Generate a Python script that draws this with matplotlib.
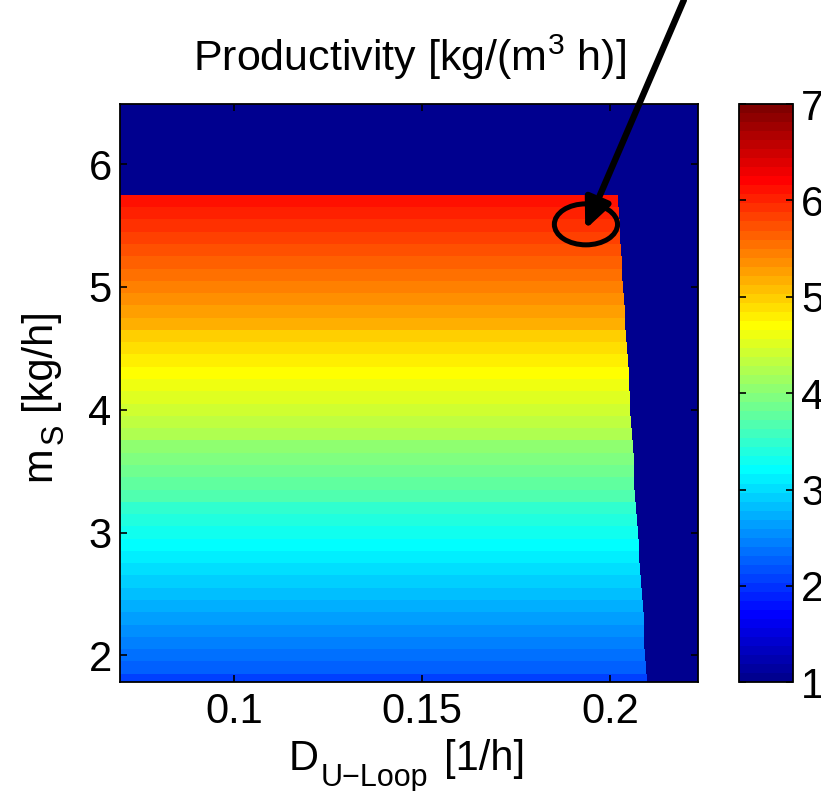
import numpy as np
import matplotlib.pyplot as plt
from matplotlib.colors import ListedColormap
from matplotlib.patches import Ellipse

plt.rcParams['font.family'] = ['Liberation Sans', 'DejaVu Sans']
plt.rcParams['mathtext.fontset'] = 'custom'
plt.rcParams['mathtext.rm'] = 'Liberation Sans'
plt.rcParams['mathtext.it'] = 'Liberation Sans'

# substrate feed m_S [kg/h] of the feasible rows
m_s = [1.8, 1.9, 2.0, 2.1, 2.2, 2.3, 2.4, 2.5, 2.6, 2.7,
       2.8, 2.9, 3.0, 3.1, 3.2, 3.3, 3.4, 3.5, 3.6, 3.7,
       3.8, 3.9, 4.0, 4.1, 4.2, 4.3, 4.4, 4.5, 4.6, 4.7,
       4.8, 4.9, 5.0, 5.1, 5.2, 5.3, 5.4, 5.5, 5.6, 5.7]
# productivity in each row [kg/(m^3 h)]
productivity = [2.12, 2.22, 2.32, 2.42, 2.52, 2.62, 2.72, 2.82, 2.92, 3.02,
                3.12, 3.21, 3.31, 3.42, 3.53, 3.64, 3.75, 3.86, 3.97, 4.08,
                4.19, 4.30, 4.41, 4.51, 4.62, 4.73, 4.83, 4.93, 5.03, 5.14,
                5.24, 5.34, 5.44, 5.54, 5.64, 5.75, 5.85, 5.95, 6.05, 6.15]
# largest dilution rate D_U-Loop [1/h] that still works in each row
d_max = [0.2098, 0.2096, 0.2094, 0.2092, 0.2090, 0.2088, 0.2086, 0.2084, 0.2082, 0.2080,
         0.2078, 0.2076, 0.2074, 0.2072, 0.2070, 0.2068, 0.2066, 0.2064, 0.2062, 0.2060,
         0.2058, 0.2056, 0.2054, 0.2053, 0.2051, 0.2049, 0.2047, 0.2045, 0.2043, 0.2041,
         0.2039, 0.2037, 0.2035, 0.2033, 0.2031, 0.2029, 0.2027, 0.2025, 0.2023, 0.2021]
# rows above the feasible region
m_s_off = [5.8, 5.9, 6.0, 6.1, 6.2, 6.3, 6.4, 6.5]
p_off = 1.0

d_lim = (0.0697, 0.2234)
m_lim = (1.78, 6.49)


def matlab_jet(m=64):
    n = int(np.ceil(m / 4))
    u = np.concatenate([np.arange(1, n + 1) / n, np.ones(n - 1), np.arange(n, 0, -1) / n])
    g = int(np.ceil(n / 2)) - (m % 4 == 1) + np.arange(1, len(u) + 1)
    r = g + n
    b = g - n
    J = np.zeros((m, 3))
    for col, idx in enumerate((r, g, b)):
        ok = (idx >= 1) & (idx <= m)
        J[idx[ok] - 1, col] = u[ok]
    return ListedColormap(J)


# build the grid
d_edges = np.linspace(d_lim[0], d_lim[1], 701)
d_mid = 0.5 * (d_edges[:-1] + d_edges[1:])
rows = []
for p, dm in zip(productivity, d_max):
    rows.append(np.where(d_mid <= dm, p, p_off))
for _ in m_s_off:
    rows.append(np.full(d_mid.shape, p_off))
Z = np.array(rows)
m_all = np.array(m_s + m_s_off)
m_edges = np.append(m_all - 0.05, m_all[-1] + 0.05)

fig = plt.figure(figsize=(8.21, 7.91), dpi=100)
ax = fig.add_axes([0.1462, 0.1374, 0.7040, 0.7311])
mesh = ax.pcolormesh(d_edges, m_edges, Z, cmap=matlab_jet(64), vmin=1, vmax=7,
                     shading='flat')

ax.set_xlim(*d_lim)
ax.set_ylim(*m_lim)
ax.set_xticks([0.1, 0.15, 0.2])
ax.set_xticklabels(['0.1', '0.15', '0.2'])
ax.set_yticks([2, 3, 4, 5, 6])
ax.tick_params(direction='in', length=5, width=1.2, top=True, right=True,
               labelsize=30)
ax.tick_params(axis='x', pad=7)
ax.tick_params(axis='y', pad=6)
for s in ax.spines.values():
    s.set_linewidth(1.3)

ax.set_title('Productivity [kg/(m$^3$ h)]', fontsize=31, pad=24)

# axis labels with large, low subscripts
fig.text(0.352, 0.026, 'D', fontsize=30, ha='left', va='baseline')
fig.text(0.391, 0.006, 'U\u2212Loop', fontsize=22, ha='left', va='baseline')
fig.text(0.5408, 0.026, '[1/h]', fontsize=30, ha='left', va='baseline')

fig.text(0.0609, 0.3919, 'm', fontsize=30, rotation=90, rotation_mode='anchor',
         ha='left', va='baseline')
fig.text(0.0767, 0.4387, 'S', fontsize=22, rotation=90, rotation_mode='anchor',
         ha='left', va='baseline')
fig.text(0.0609, 0.4817, '[kg/h]', fontsize=30, rotation=90, rotation_mode='anchor',
         ha='left', va='baseline')

# marked operating point
ax.add_patch(Ellipse((0.1936, 5.51), 0.0168, 0.334, fill=False, ec='k', lw=3.6))
ax.annotate('', xy=(0.1934, 5.468), xycoords='data',
            xytext=(0.833, 1.0), textcoords='figure fraction',
            arrowprops=dict(arrowstyle='-|>,head_length=0.9,head_width=0.4',
                            mutation_scale=20, lw=4.6, color='k',
                            shrinkA=0, shrinkB=0))

cax = fig.add_axes([0.9001, 0.1374, 0.0658, 0.7311])
cb = fig.colorbar(mesh, cax=cax, ticks=[1, 2, 3, 4, 5, 6, 7])
cax.tick_params(direction='in', length=5, width=1.2, left=True, right=True,
                labelsize=30, pad=6)
cb.outline.set_linewidth(1.3)

fig.savefig('out.png', dpi=100)
